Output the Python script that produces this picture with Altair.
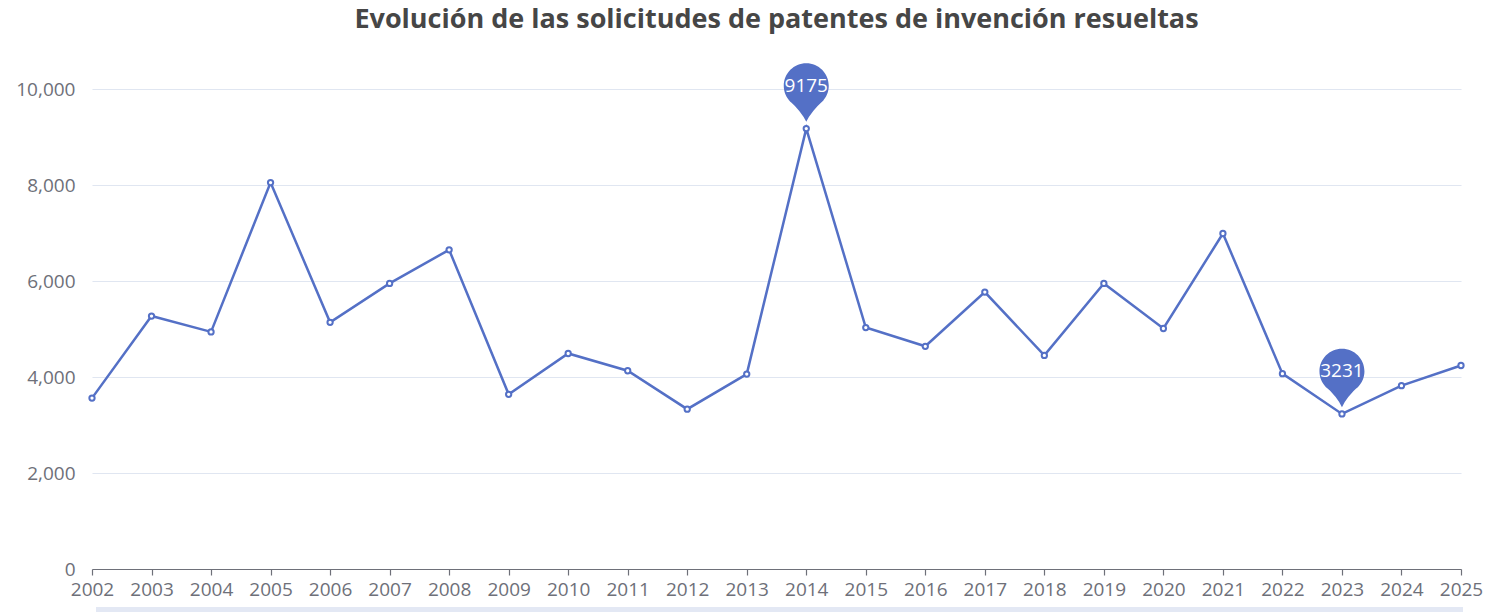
import altair as alt
import pandas as pd

years = [2002, 2003, 2004, 2005, 2006, 2007, 2008, 2009, 2010, 2011, 2012, 2013,
         2014, 2015, 2016, 2017, 2018, 2019, 2020, 2021, 2022, 2023, 2024, 2025]
values = [3560, 5270, 4940, 8050, 5140, 5950, 6650, 3640, 4490, 4130, 3330, 4060,
          9175, 5030, 4640, 5770, 4450, 5950, 5010, 6990, 4070, 3231, 3820, 4240]
y_ticks = [0, 2000, 4000, 6000, 8000, 10000]
title_text = "Evolución de las solicitudes de patentes de invención resueltas"

COLOR = "#5470C6"
AXIS_GRAY = "#6E7079"
FONT = "Open Sans"

df = pd.DataFrame({"year": years, "value": values})
extremes = pd.concat([df.loc[[df["value"].idxmax()]], df.loc[[df["value"].idxmin()]]])

x = alt.X("year:Q", scale=alt.Scale(domain=[years[0], years[-1]], nice=False, zero=False),
          axis=alt.Axis(values=years, labelExpr="format(datum.value, 'd')", title=None, grid=False,
                        domainColor=AXIS_GRAY, tickColor=AXIS_GRAY, tickSize=6,
                        domainWidth=1.2, tickWidth=1.2,
                        labelColor=AXIS_GRAY, labelFontSize=19, labelFont=FONT,
                        labelPadding=5, labelFlush=False, labelOverlap=False))
y = alt.Y("value:Q", scale=alt.Scale(domain=[0, 10000], nice=False),
          axis=alt.Axis(values=y_ticks, labelExpr="format(datum.value, ',')", title=None, grid=True,
                        gridColor="#E0E6F1", gridWidth=1.2, domain=False, ticks=False,
                        labelColor=AXIS_GRAY, labelFontSize=19, labelFont=FONT,
                        labelPadding=17))

base = alt.Chart(df)

line = base.mark_line(color=COLOR, strokeWidth=2.5).encode(x=x, y=y)
points = base.mark_point(shape="circle", filled=True, fill="white", stroke=COLOR,
                         strokeWidth=2, size=28, opacity=1).encode(x=x, y=y)

pin_path = ("M0,-2.9 C0.5523,-2.9 1,-2.4523 1,-1.9 C1,-1.3477 0.5523,-0.9 0,-0.9 "
            "C-0.5523,-0.9 -1,-1.3477 -1,-1.9 C-1,-2.4523 -0.5523,-2.9 0,-2.9 Z "
            "M0.78,-1.275 Q0.2,-0.75 0,-0.3 Q-0.2,-0.75 -0.78,-1.275 Z")
pins = alt.Chart(extremes).mark_point(shape=pin_path, filled=True, color=COLOR,
                                      opacity=1, size=2025, strokeWidth=0).encode(x=x, y=y)
pin_text = alt.Chart(extremes).mark_text(color="white", fontSize=19, font=FONT,
                                         dy=-43, baseline="middle", align="center").encode(
    x=x, y=y, text=alt.Text("value:Q", format="d"))

slider = alt.Chart(df).mark_rect(color="#E3E8F4").encode(
    x=alt.value(4), x2=alt.value(1371), y=alt.value(518), y2=alt.value(540))

chart = alt.layer(line, points, pins, pin_text, slider).properties(
    width=1369, height=480,
    background="white",
    title=alt.TitleParams(title_text, fontSize=27, font=FONT, fontWeight="bold",
                          color="#464646", anchor="middle", offset=29),
    autosize=alt.AutoSizeParams(type="none"),
    padding={"left": 92, "top": 89, "right": 35, "bottom": 43},
).configure_view(stroke=None, strokeWidth=0)

chart.save("out.html", embed_options={"renderer": "svg", "actions": False})
